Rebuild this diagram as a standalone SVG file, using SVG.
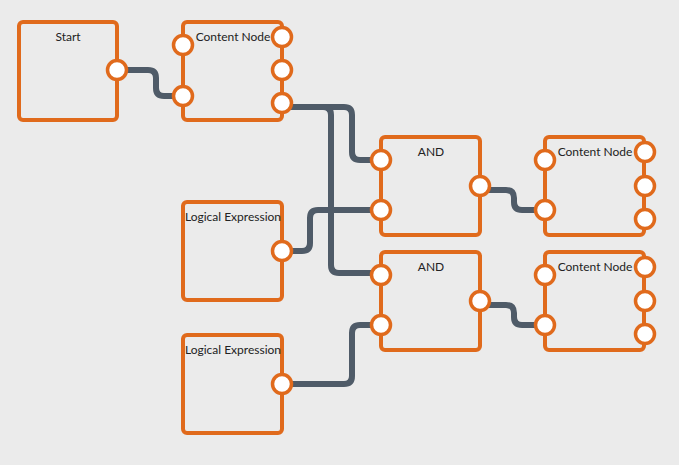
<svg xmlns="http://www.w3.org/2000/svg" width="679" height="465" viewBox="0 0 679 465">
<style>
.bg{fill:#ebebeb}
.node{fill:none;stroke:#e06a1c;stroke-width:4}
.port{fill:#ffffff;stroke:#e06a1c;stroke-width:3.5}
.wire{fill:none;stroke:#4f5b68;stroke-width:6;stroke-linecap:butt}
.lbl{font-family:Lato,"Liberation Sans",sans-serif;font-size:12px;fill:#222;text-anchor:middle}
</style>
<rect class="bg" x="0" y="0" width="679" height="465"/>
<g id="connectors">
<path class="wire" d="M117,70 H148 Q156,70 156,78 V88 Q156,96 164,96 H183"/>
<path class="wire" d="M282,107 H344 Q352,107 352,115 V152 Q352,160 360,160 H381"/>
<path class="wire" d="M282,107 H323 Q331,107 331,115 V265 Q331,273 339,273 H381"/>
<path class="wire" d="M282,251 H302 Q310,251 310,243 V218 Q310,210 318,210 H381"/>
<path class="wire" d="M282,384 H344 Q352,384 352,376 V333 Q352,325 360,325 H381"/>
<path class="wire" d="M480,190 H506 Q514,190 514,198 V202 Q514,210 522,210 H545"/>
<path class="wire" d="M480,305 H506 Q514,305 514,313 V317 Q514,325 522,325 H545"/>
</g>
<g id="start">
<rect class="node" x="19" y="22" width="98" height="98" rx="4"/>
<text class="lbl" x="68" y="41">Start</text>
<circle class="port" cx="117" cy="70" r="9.5"/>
</g>
<g id="content1">
<rect class="node" x="183" y="22" width="99" height="98" rx="4"/>
<text class="lbl" x="233" y="41">Content Node</text>
<circle class="port" cx="183" cy="45" r="9.5"/>
<circle class="port" cx="183" cy="96" r="9.5"/>
<circle class="port" cx="282" cy="37" r="9.5"/>
<circle class="port" cx="282" cy="70" r="9.5"/>
<circle class="port" cx="282" cy="103" r="9.5"/>
</g>
<g id="logic1">
<rect class="node" x="183" y="202" width="99" height="98" rx="4"/>
<text class="lbl" x="233" y="221">Logical Expression</text>
<circle class="port" cx="282" cy="251" r="9.5"/>
</g>
<g id="logic2">
<rect class="node" x="183" y="335" width="99" height="98" rx="4"/>
<text class="lbl" x="233" y="354">Logical Expression</text>
<circle class="port" cx="282" cy="384" r="9.5"/>
</g>
<g id="and1">
<rect class="node" x="381" y="137" width="99" height="98" rx="4"/>
<text class="lbl" x="431" y="156">AND</text>
<circle class="port" cx="381" cy="160" r="9.5"/>
<circle class="port" cx="381" cy="210" r="9.5"/>
<circle class="port" cx="480" cy="186" r="9.5"/>
</g>
<g id="and2">
<rect class="node" x="381" y="252" width="99" height="98" rx="4"/>
<text class="lbl" x="431" y="271">AND</text>
<circle class="port" cx="381" cy="275" r="9.5"/>
<circle class="port" cx="381" cy="325" r="9.5"/>
<circle class="port" cx="480" cy="301" r="9.5"/>
</g>
<g id="content2">
<rect class="node" x="545" y="137" width="99" height="98" rx="4"/>
<text class="lbl" x="595" y="156">Content Node</text>
<circle class="port" cx="545" cy="160" r="9.5"/>
<circle class="port" cx="545" cy="210" r="9.5"/>
<circle class="port" cx="645" cy="152" r="9.5"/>
<circle class="port" cx="645" cy="186" r="9.5"/>
<circle class="port" cx="645" cy="219" r="9.5"/>
</g>
<g id="content3">
<rect class="node" x="545" y="252" width="99" height="98" rx="4"/>
<text class="lbl" x="595" y="271">Content Node</text>
<circle class="port" cx="545" cy="275" r="9.5"/>
<circle class="port" cx="545" cy="325" r="9.5"/>
<circle class="port" cx="645" cy="267" r="9.5"/>
<circle class="port" cx="645" cy="301" r="9.5"/>
<circle class="port" cx="645" cy="334" r="9.5"/>
</g>
</svg>
